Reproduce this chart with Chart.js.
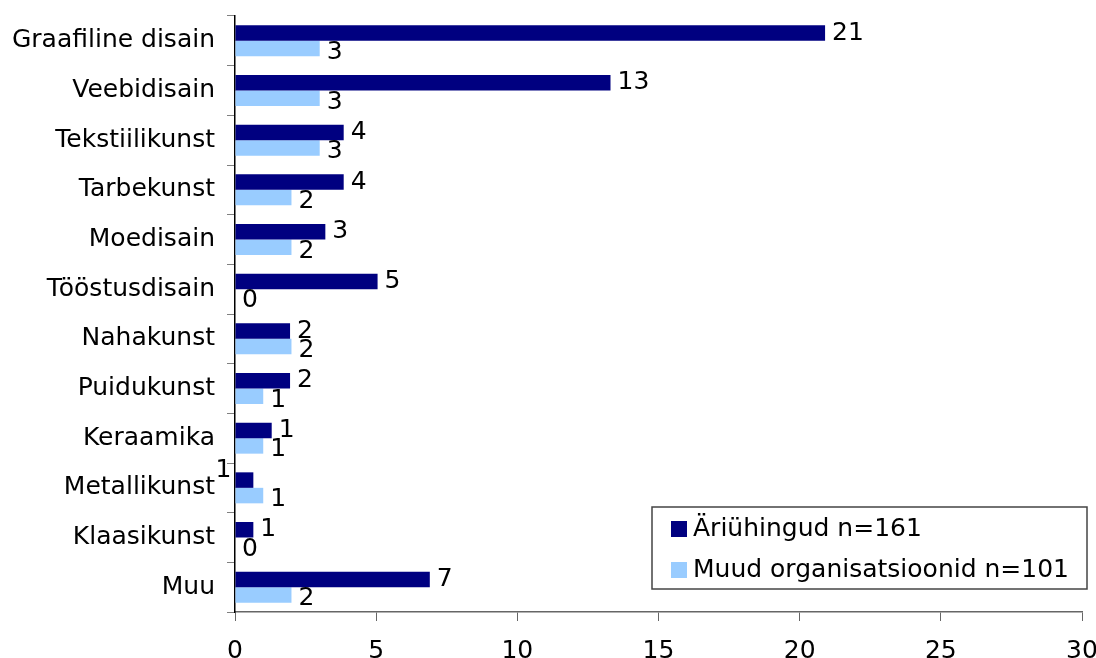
<!DOCTYPE html>
<html>
<head>
<meta charset="utf-8">
<script src="https://cdn.jsdelivr.net/npm/chart.js@4/dist/chart.umd.min.js"></script>
<style>
  body { margin: 0; background: #fff; }
  #wrap { width: 1096px; height: 658px; }
</style>
</head>
<body>
<div id="wrap"><canvas id="joonis" width="1096" height="658"></canvas></div>
<script>
const kategooriad = ['Graafiline disain', 'Veebidisain', 'Tekstiilikunst', 'Tarbekunst', 'Moedisain',
  'Tööstusdisain', 'Nahakunst', 'Puidukunst', 'Keraamika', 'Metallikunst', 'Klaasikunst', 'Muu'];
const ariyhingud = [20.9, 13.3, 3.85, 3.85, 3.2, 5.05, 1.95, 1.95, 1.3, 0.65, 0.65, 6.9];
const muudOrg = [3, 3, 3, 2, 2, 0, 2, 1, 1, 1, 0, 2];
const seeriad = ['Äriühingud n=161', 'Muud organisatsioonid n=101'];
const xMax = 30;
const xSamm = 5;

const FONT = '"DejaVu Sans", Verdana, sans-serif';
Chart.defaults.font.family = FONT;
Chart.defaults.font.size = 25;
Chart.defaults.color = '#000';

// arvud tulpade otsas
const sildid = {
  id: 'sildid',
  afterDatasetsDraw(chart) {
    const ctx = chart.ctx;
    ctx.save();
    ctx.font = '25px ' + FONT;
    ctx.fillStyle = '#000';
    ctx.textBaseline = 'middle';
    chart.data.datasets.forEach((ds, di) => {
      const meta = chart.getDatasetMeta(di);
      meta.data.forEach((bar, i) => {
        const txt = String(Math.round(ds.data[i]));
        // Excel lükkas selle sildi telje vasakule poole
        if (di === 0 && kategooriad[i] === 'Metallikunst') {
          ctx.textAlign = 'right';
          ctx.fillText(txt, bar.base - 4, bar.y - 10);
          return;
        }
        ctx.textAlign = 'left';
        ctx.fillText(txt, bar.x + 7, bar.y + (di === 1 ? 4 : 0));
      });
    });
    ctx.restore();
  }
};

// legend kasti sees, all paremal
const legendKast = {
  id: 'legendKast',
  afterDraw(chart) {
    const ctx = chart.ctx;
    const x0 = 652, y0 = 507, w = 435, h = 82;
    ctx.save();
    ctx.fillStyle = '#fff';
    ctx.fillRect(x0, y0, w, h);
    ctx.strokeStyle = '#444';
    ctx.lineWidth = 1.5;
    ctx.strokeRect(x0, y0, w, h);
    ctx.font = '25px ' + FONT;
    ctx.textBaseline = 'middle';
    ctx.textAlign = 'left';
    chart.data.datasets.forEach((ds, i) => {
      const yc = y0 + 22 + i * 41;
      ctx.fillStyle = ds.backgroundColor;
      ctx.fillRect(x0 + 19, yc - 8, 16, 16);
      ctx.fillStyle = '#000';
      ctx.fillText(ds.label, x0 + 41, yc);
    });
    ctx.restore();
  }
};

new Chart(document.getElementById('joonis'), {
  type: 'bar',
  data: {
    labels: kategooriad,
    datasets: [
      { label: seeriad[0], data: ariyhingud, backgroundColor: '#000080' },
      { label: seeriad[1], data: muudOrg, backgroundColor: '#99CCFF' }
    ]
  },
  options: {
    indexAxis: 'y',
    responsive: false,
    animation: false,
    datasets: { bar: { categoryPercentage: 0.624, barPercentage: 1 } },
    layout: { padding: { top: 16, right: 14, left: 0, bottom: 0 } },
    plugins: { legend: { display: false }, tooltip: { enabled: false } },
    scales: {
      x: {
        min: 0,
        max: xMax,
        ticks: { stepSize: xSamm, padding: 15, color: '#000' },
        grid: { drawOnChartArea: false, tickLength: 9, color: '#666' },
        border: { color: '#666', width: 1.5 },
        afterFit(s) { s.height = 46; s.paddingLeft = 0; s.paddingRight = 0; }
      },
      y: {
        ticks: { padding: 12, color: '#000' },
        grid: { drawOnChartArea: false, tickLength: 8, color: '#808080', offset: true },
        border: { color: '#000', width: 1.5 },
        afterFit(s) { s.width = 235; s.paddingTop = 0; s.paddingBottom = 0; }
      }
    }
  },
  plugins: [sildid, legendKast]
});
</script>
</body>
</html>
